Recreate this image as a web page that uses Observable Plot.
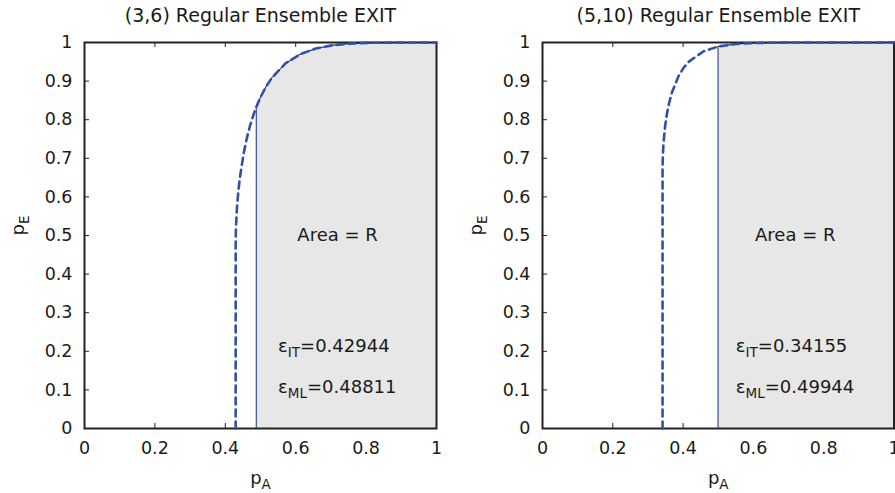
<!DOCTYPE html>
<html>
<head>
<meta charset="utf-8">
<script src="https://cdn.jsdelivr.net/npm/d3@7"></script>
<script src="https://cdn.jsdelivr.net/npm/@observablehq/plot@0.6"></script>
<style>
  html, body { margin: 0; padding: 0; background: white; }
  #wrap { display: flex; flex-direction: row; width: 895px; height: 493px; overflow: hidden; }
  svg { overflow: visible; }
</style>
</head>
<body>
<div id="wrap"></div>
<script>
// ---- data ----
const titles = ["(3,6) Regular Ensemble EXIT", "(5,10) Regular Ensemble EXIT"];
const epsIT = [0.42944, 0.34155];
const epsML = [0.48811, 0.49944];

const xTickVals = [0, 0.2, 0.4, 0.6, 0.8, 1];
const xTickLabels = ["0", "0.2", "0.4", "0.6", "0.8", "1"];
const yTickVals = [0, 0.1, 0.2, 0.3, 0.4, 0.5, 0.6, 0.7, 0.8, 0.9, 1];
const yTickLabels = ["0", "0.1", "0.2", "0.3", "0.4", "0.5", "0.6", "0.7", "0.8", "0.9", "1"];

// (3,6) EXIT curve: p_A (x) and p_E (y)
const pA36 = [0.42944, 0.42950, 0.42969, 0.43046, 0.43346, 0.43682, 0.44105, 0.45181, 0.46051, 0.47030, 0.48108, 0.48811, 0.49896, 0.51528, 0.53278, 0.57087, 0.61248, 0.65689, 0.70341, 0.75147, 0.80051, 0.90002, 1.0];
const pE36 = [0, 0.4727, 0.4981, 0.5246, 0.5758, 0.6124, 0.6472, 0.7112, 0.7496, 0.7844, 0.8157, 0.8329, 0.8565, 0.8851, 0.9092, 0.9457, 0.9696, 0.9843, 0.9927, 0.9971, 0.9990, 1.0, 1.0];

// (5,10) EXIT curve
const pA510 = [0.34155, 0.34155, 0.34161, 0.34245, 0.34417, 0.34820, 0.35373, 0.36056, 0.36850, 0.38715, 0.40129, 0.41654, 0.45839, 0.49944, 0.50393, 0.55167, 0.60063, 0.70006, 0.80000, 1.0];
const pE510 = [0, 0.6630, 0.6769, 0.7087, 0.7383, 0.7785, 0.8139, 0.8446, 0.8712, 0.9131, 0.9341, 0.9506, 0.9772, 0.9894, 0.9903, 0.9962, 0.9987, 0.9999, 1.0, 1.0];

const curves = [
  pA36.map((a, i) => ({pA: a, pE: pE36[i]})),
  pA510.map((a, i) => ({pA: a, pE: pE510[i]}))
];

function subscriptify(svg) {
  d3.select(svg).selectAll("text").each(function () {
    const s = this.textContent;
    const m = s.match(/^(.*?)_\{(.*?)\}(.*)$/);
    if (!m) return;
    const t = d3.select(this);
    t.text(null);
    t.append("tspan").text(m[1]);
    t.append("tspan").attr("dy", 5).attr("font-size", "13.5px").text(m[2]);
    if (m[3]) t.append("tspan").attr("dy", -5).text(m[3]);
  });
}

function panel(i, width, marginLeft, marginRight) {
  const marginTop = 42, marginBottom = 65, height = 493;
  const fw = width - marginLeft - marginRight;
  const fh = height - marginTop - marginBottom;
  const tick = 5;
  const curve = curves[i];
  const area = curve.filter(d => d.pA >= epsML[i]);
  const hML = area[0].pE;
  const svg = Plot.plot({
    width, height, marginLeft, marginRight, marginTop, marginBottom,
    style: {fontFamily: "DejaVu Sans", fontSize: "17.5px", background: "white", color: "#1a1a1a", overflow: "visible"},
    x: {domain: [0, 1], ticks: xTickVals, tickFormat: d => xTickLabels[xTickVals.indexOf(d)], tickSize: 0, tickPadding: 13, label: null},
    y: {domain: [0, 1], ticks: yTickVals, tickFormat: d => yTickLabels[yTickVals.indexOf(d)], tickSize: 0, tickPadding: 12, label: null},
    marks: [
      Plot.tickX(xTickVals, {x: d => d, insetTop: fh - tick, stroke: "#222", strokeWidth: 1}),
      Plot.tickX(xTickVals, {x: d => d, insetBottom: fh - tick, stroke: "#222", strokeWidth: 1}),
      Plot.tickY(yTickVals, {y: d => d, insetRight: fw - tick, stroke: "#222", strokeWidth: 1}),
      Plot.tickY(yTickVals, {y: d => d, insetLeft: fw - tick, stroke: "#222", strokeWidth: 1}),
      Plot.areaY(area, {x: "pA", y: "pE", fill: "#e6e7e6"}),
      Plot.frame({stroke: "#222", strokeWidth: 2}),
      Plot.ruleX([epsML[i]], {x: d => d, y1: 0, y2: hML, stroke: "#3b4f9f", strokeWidth: 1.2}),
      Plot.line(area, {x: "pA", y: "pE", stroke: "#111", strokeWidth: 1}),
      Plot.line(curve, {x: "pA", y: "pE", stroke: "#2f50ab", strokeWidth: 2.6, strokeDasharray: "7,5"}),
      Plot.text([titles[i]], {text: d => d, frameAnchor: "top", dy: -27, lineAnchor: "middle", fontSize: 19}),
      Plot.text(["Area = R"], {text: d => d, x: 0.719, y: 0.5, lineAnchor: "middle", fontSize: 18}),
      Plot.text(["ε_{IT}=" + epsIT[i].toFixed(5)], {text: d => d, x: 0.55, y: 0.213, textAnchor: "start", lineAnchor: "middle", fontSize: 18}),
      Plot.text(["ε_{ML}=" + epsML[i].toFixed(5)], {text: d => d, x: 0.55, y: 0.108, textAnchor: "start", lineAnchor: "middle", fontSize: 18}),
      Plot.text(["p_{A}"], {text: d => d, frameAnchor: "bottom", dy: 50, lineAnchor: "middle", fontSize: 18}),
      Plot.text(["p_{E}"], {text: d => d, frameAnchor: "left", dx: -66, rotate: -90, lineAnchor: "middle", fontSize: 18})
    ]
  });
  subscriptify(svg);
  return svg;
}

const wrap = document.getElementById("wrap");
wrap.appendChild(panel(0, 447, 84, 11));
wrap.appendChild(panel(1, 448, 95, 1.5));
</script>
</body>
</html>
